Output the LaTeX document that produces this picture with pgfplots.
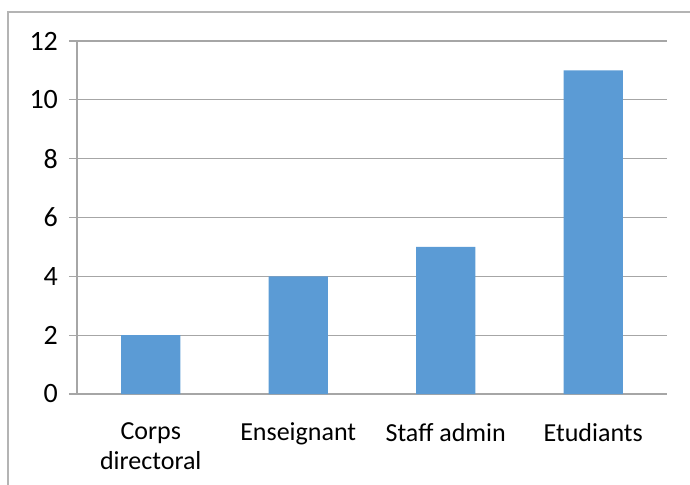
\documentclass[border=0pt]{standalone}
\usepackage{pgfplots}
\pgfplotsset{compat=1.18}
\usepackage{fontspec}
\setmainfont{Carlito}
\definecolor{barblue}{HTML}{5B9BD5}
\definecolor{gridgray}{HTML}{A6A6A6}
\definecolor{framegray}{HTML}{B4B4B4}

\begin{document}
\fontsize{13}{15}\selectfont
\begin{tikzpicture}
\useasboundingbox (0,0) rectangle (345pt,242pt);
\draw[framegray, line width=0.8pt] (4pt,-2pt) -- (4pt,236pt) -- (347pt,236pt);
\begin{axis}[
    at={(38.5pt,45pt)}, anchor=south west,
    scale only axis, width=295pt, height=176.5pt,
    xmin=-0.5, xmax=3.5, ymin=0, ymax=12,
    ytick={0,2,4,6,8,10,12},
    xtick={0,1,2,3},
    xticklabels={{Corps\\directoral},Enseignant,Staff admin,Etudiants},
    minor xtick={-0.5,0.5,1.5,2.5,3.5},
    xtick style={draw=none},
    minor tick length=4pt, major tick length=4pt,
    tick align=outside,
    axis lines*=left,
    axis line style={gridgray, line width=0.6pt},
    every tick/.style={gridgray, line width=0.6pt},
    ymajorgrids, major grid style={gridgray, line width=0.6pt},
    /pgf/number format/assume math mode=true,
    tick label style={font=\fontsize{13}{15}\selectfont, black},
    xticklabel style={align=center, anchor=north, yshift=-6pt},
    yticklabel style={anchor=east, xshift=-1pt, font=\fontsize{14}{16}\selectfont},
    clip=false,
]
\addplot[ybar, bar width=29.5pt, fill=barblue, draw=none] coordinates {
  (0, 2)
  (1, 4)
  (2, 5)
  (3, 11)
};
\end{axis}
\end{tikzpicture}
\end{document}
